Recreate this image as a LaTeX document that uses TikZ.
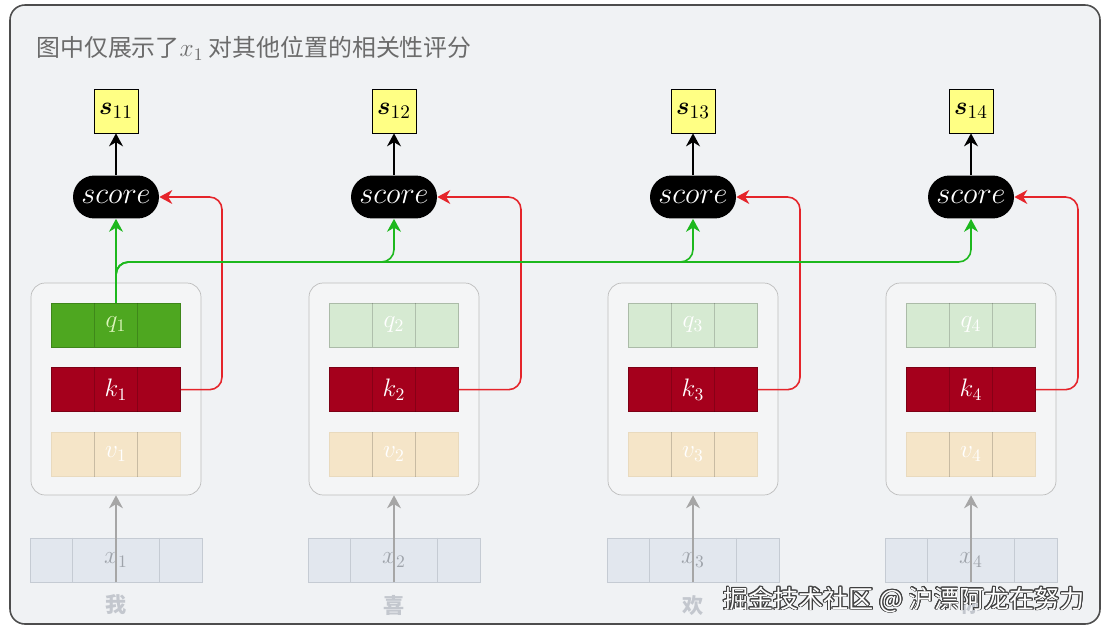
\documentclass[tikz,border=0pt]{standalone}
\usepackage{fontspec}
\usepackage{amsmath}
\usepackage[copies]{contour}
\newfontfamily\cjk{Noto Sans CJK SC}
\usetikzlibrary{arrows.meta,calc,positioning}
\definecolor{Canvas}{HTML}{F0F2F4}
\definecolor{Edge}{HTML}{4D4D4D}
\definecolor{BlockFill}{HTML}{F4F5F6}
\definecolor{BlockEdge}{HTML}{BDBDBD}
\definecolor{QOn}{HTML}{4EA720}
\definecolor{QOnText}{HTML}{DDF5BC}
\definecolor{QOff}{HTML}{D6EAD2}
\definecolor{KFill}{HTML}{A5001C}
\definecolor{VFill}{HTML}{F5E5C8}
\definecolor{XFill}{HTML}{E2E7EE}
\definecolor{XEdge}{HTML}{C5CBD3}
\definecolor{XText}{HTML}{9EA3AA}
\definecolor{WordGray}{HTML}{C3C7CE}
\definecolor{TitleGray}{HTML}{6B6B6B}
\definecolor{QueryGreen}{HTML}{1DB81D}
\definecolor{KeyRed}{HTML}{E5242A}
\definecolor{Score}{HTML}{FFFF84}
\contourlength{0.5pt}

\begin{document}
\begin{tikzpicture}[x=0.02cm, y=-0.02cm, >={Stealth[length=2.6mm,width=2.8mm]},
    frame/.style={draw=Edge, fill=Canvas, line width=0.9pt, rounded corners=0.3cm},
    block/.style={draw=BlockEdge, fill=BlockFill, rounded corners=0.28cm, minimum width=3.4cm, minimum height=4.24cm},
    row/.style={minimum width=2.58cm, minimum height=0.88cm, inner sep=0pt, font=\Large},
    xrow/.style={row, minimum width=3.44cm, fill=XFill, draw=XEdge, text=XText},
    cell/.style={black, opacity=0.18},
    scorebox/.style={fill=black, text=white, rounded corners=0.43cm, minimum width=1.72cm, minimum height=0.86cm, font=\fontsize{16}{19}\selectfont},
    sbox/.style={draw=black, fill=Score, minimum size=0.88cm, inner sep=0pt, font=\fontsize{15}{18}\selectfont},
    queryline/.style={->, color=QueryGreen, line width=0.9pt, rounded corners=0.25cm},
    keyline/.style={->, color=KeyRed, line width=0.9pt, rounded corners=0.25cm},
    inarrow/.style={->, color=black!35, line width=0.7pt},
    word/.style={font=\cjk\bfseries\large, text=WordGray}]
    \useasboundingbox (0,0) rectangle (1108,632);
    \fill[white] (0,0) rectangle (1108,632);
    \draw[frame] (10,5) rectangle (1100,624);
    \node[anchor=west, text=TitleGray, font=\cjk\fontsize{13.6}{16}\selectfont, inner sep=0pt] (title) at (36,48) {图中仅展示了$x_1$ 对其他位置的相关性评分};
    \foreach \i/\cx/\rx/\qf/\qt/\w in {1/116/222/QOn/QOnText/我, 2/394/521/QOff/white/喜, 3/693/800/QOff/white/欢, 4/971/1078/QOff/white/你} {
      \node[block] (b\i) at (\cx,389) {};
      \node[row, fill=\qf, draw=\qf!80!black, text=\qt] (q\i) at (\cx,325) {$q_{\i}$};
      \node[row, fill=KFill, draw=KFill!75!black, text=white, below=0.4cm of q\i] (k\i) {$k_{\i}$};
      \node[row, fill=VFill, draw=VFill!95!black, text=white, below=0.4cm of k\i] (v\i) {$v_{\i}$};
      \foreach \r in {q,k,v}
        \foreach \f in {1/3,2/3}
          \draw[cell] ($(\r\i.north west)!\f!(\r\i.north east)$) -- ($(\r\i.south west)!\f!(\r\i.south east)$);
      \node[xrow] (x\i) at (\cx,560) {$x_{\i}$};
      \foreach \f in {1/4,3/4}
        \draw[XEdge] ($(x\i.north west)!\f!(x\i.north east)$) -- ($(x\i.south west)!\f!(x\i.south east)$);
      \node[word] (w\i) at (\cx,605) {\w};
      \node[scorebox] (sc\i) at (\cx,197) {$score$};
      \node[sbox] (s\i) at (\cx,111) {$\boldsymbol{s}_{1\i}$};
      \coordinate (r\i) at (\rx,197);
      \coordinate (g\i) at (\cx,262);
      \draw[->, line width=1.1pt] (sc\i.north) -- (s\i.south);
      \draw[keyline] (k\i.east) -| (r\i) -- (sc\i.east);
      \draw[inarrow] (x\i.south) -- (b\i.south);
    }
    \draw[queryline] (q1.north) -- (sc1.south);
    \foreach \i in {2,3,4}
      \draw[queryline] (q1.north) |- (g\i) -- (sc\i.south);
    \node[anchor=east, text=white, font=\cjk\fontsize{14.3}{17}\selectfont] (mark) at (1091,600) {\contour{black!75}{掘金技术社区 @ 沪漂阿龙在努力}};
  \end{tikzpicture}
\end{document}
